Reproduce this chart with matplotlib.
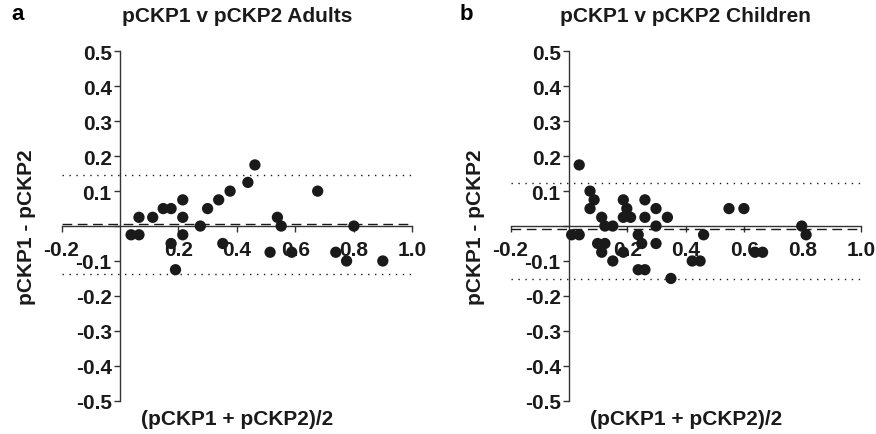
import matplotlib
matplotlib.use("Agg")
import matplotlib.pyplot as plt

plt.rcParams['font.family'] = ['Liberation Sans', 'DejaVu Sans']
plt.rcParams['font.weight'] = 'bold'
plt.rcParams['axes.unicode_minus'] = False

# ---- data ----
adult_x = [0.038, 0.065, 0.065, 0.112, 0.148, 0.175, 0.175, 0.190, 0.215, 0.215,
           0.215, 0.275, 0.300, 0.338, 0.352, 0.377, 0.438, 0.462, 0.514, 0.539,
           0.552, 0.588, 0.677, 0.739, 0.776, 0.801, 0.900]
adult_y = [-0.025, -0.025, 0.025, 0.025, 0.05, 0.05, -0.05, -0.125, 0.075, 0.025,
           -0.025, 0.0, 0.05, 0.075, -0.05, 0.1, 0.125, 0.175, -0.075, 0.025,
           0.0, -0.075, 0.1, -0.075, -0.1, 0.0, -0.1]
adult_bias = 0.006
adult_loa = [0.147, -0.136]

child_x = [0.009, 0.035, 0.035, 0.072, 0.086, 0.072, 0.112, 0.123, 0.150, 0.098,
           0.123, 0.112, 0.150, 0.186, 0.198, 0.186, 0.211, 0.186, 0.237, 0.249,
           0.237, 0.260, 0.260, 0.260, 0.298, 0.298, 0.298, 0.337, 0.349, 0.422,
           0.449, 0.461, 0.548, 0.599, 0.637, 0.663, 0.797, 0.812]
child_y = [-0.025, -0.025, 0.175, 0.1, 0.075, 0.05, 0.025, 0.0, 0.0, -0.05,
           -0.05, -0.075, -0.1, 0.075, 0.05, 0.025, 0.025, -0.075, -0.025, -0.05,
           -0.125, -0.125, 0.075, 0.025, 0.05, 0.0, -0.05, 0.025, -0.15, -0.1,
           -0.1, -0.025, 0.05, 0.05, -0.075, -0.075, 0.0, -0.025]
child_bias = -0.008
child_loa = [0.123, -0.152]

titles = ["pCKP1 v pCKP2 Adults", "pCKP1 v pCKP2 Children"]
panel_labels = ["a", "b"]
xlabel = "(pCKP1 + pCKP2)/2"
ylabel = "pCKP1 - pCKP2"
xticks = [-0.2, 0.2, 0.4, 0.6, 0.8, 1.0]
xticklabels = ["-0.2", "0.2", "0.4", "0.6", "0.8", "1.0"]
yticks = [-0.5, -0.4, -0.3, -0.2, -0.1, 0.0, 0.1, 0.2, 0.3, 0.4, 0.5]
yticklabels = ["-0.5", "-0.4", "-0.3", "-0.2", "-0.1", "", "0.1", "0.2", "0.3", "0.4", "0.5"]

W, H = 876, 435
fig = plt.figure(figsize=(W / 100, H / 100), dpi=100)

lefts = [61.6, 510.6]
axw = 350.4
top_px, bot_px = 52.4, 401.7

data = [(adult_x, adult_y, adult_bias, adult_loa),
        (child_x, child_y, child_bias, child_loa)]

FS = 15
col = '#1a1a1a'
for i, (xs, ys, bias, loa) in enumerate(data):
    ax = fig.add_axes([lefts[i] / W, (H - bot_px) / H, axw / W, (bot_px - top_px) / H])
    ax.set_xlim(-0.2, 1.0)
    ax.set_ylim(-0.5, 0.5)
    for s in ['top', 'right']:
        ax.spines[s].set_visible(False)
    ax.spines['left'].set_position(('data', 0))
    ax.spines['bottom'].set_position(('data', 0))
    for s in ['left', 'bottom']:
        ax.spines[s].set_color('#333333')
        ax.spines[s].set_linewidth(1.0)
    ax.set_xticks(xticks)
    ax.set_xticklabels(xticklabels)
    ax.set_yticks(yticks)
    ax.set_yticklabels(yticklabels)
    ax.tick_params(axis='x', direction='out', length=4.5, width=1.0, color='#333333',
                   labelsize=FS, pad=5.5)
    ax.tick_params(axis='y', direction='out', length=4.5, width=1.0, color='#333333',
                   labelsize=FS, pad=1.5)
    for lab in ax.get_xticklabels() + ax.get_yticklabels():
        lab.set_fontweight('bold')
        lab.set_color(col)
    ax.axhline(bias, color=col, lw=1.0, linestyle=(0, (7, 4)), zorder=2)
    for v in loa:
        ax.axhline(v, color=col, lw=1.0, linestyle=(0, (1, 4)), zorder=2)
    ax.scatter(xs, ys, s=66, color=col, edgecolors='none', zorder=3, clip_on=False)
    ax.patch.set_visible(False)

    cx = (lefts[i] + axw / 2) / W
    fig.text(cx, 1 - 17 / H, titles[i], ha='center', va='center', fontsize=FS,
             fontweight='bold', color=col)
    fig.text(cx, 1 - 420 / H, xlabel, ha='center', va='center', fontsize=FS,
             fontweight='bold', color=col)
    fig.text((lefts[i] - 35) / W, 1 - 227 / H, ylabel, ha='center', va='center',
             rotation=90, fontsize=FS, fontweight='bold', color=col)
    fig.text((lefts[i] - 44) / W, 1 - 15 / H, panel_labels[i], ha='center', va='center',
             fontsize=FS + 1, fontweight='bold', color='black')

fig.savefig("out.png", dpi=100)
